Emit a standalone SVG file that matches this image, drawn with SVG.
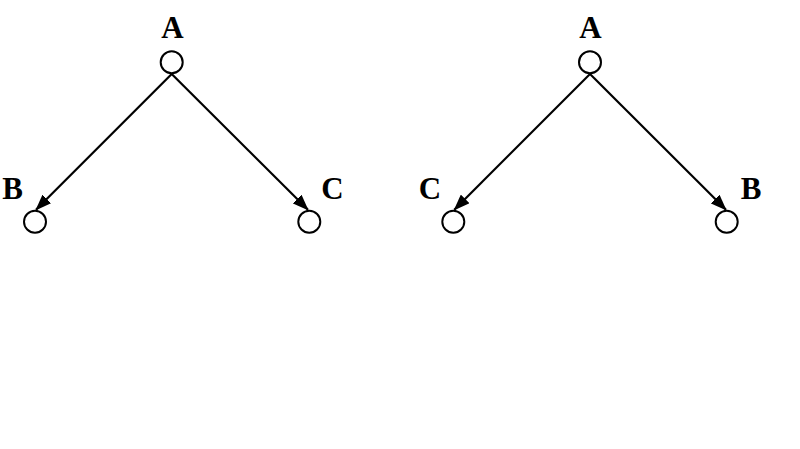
<svg xmlns="http://www.w3.org/2000/svg" width="800" height="449" viewBox="0 0 800 449">
<style>
.node circle{fill:#fff;stroke:#000;stroke-width:2}
.lbl{font-family:"Liberation Serif",serif;font-weight:bold;font-size:31px;fill:#000;text-anchor:middle}
.edge{stroke:#000;stroke-width:2.2;fill:none;marker-end:url(#arr)}
</style>
<defs>
<marker id="arr" markerWidth="7.4" markerHeight="5.6" refX="7" refY="2.8" orient="auto" markerUnits="strokeWidth">
<path d="M0,0 L7.4,2.8 L0,5.6 Z" fill="#000"/>
</marker>
</defs>
<rect width="800" height="449" fill="#fff"/>
<g id="connectors">
<line class="edge" x1="171.7" y1="74" x2="36" y2="209.8"/>
<line class="edge" x1="171.7" y1="74" x2="308" y2="209.8"/>
<line class="edge" x1="590" y1="74" x2="454.3" y2="209.8"/>
<line class="edge" x1="590" y1="74" x2="726" y2="209.8"/>
</g>
<g id="L-A" class="node"><circle cx="171.7" cy="62.3" r="11"/><text class="lbl" x="172.5" y="38">A</text></g>
<g id="L-B" class="node"><circle cx="35" cy="221.7" r="11"/><text class="lbl" x="12.5" y="199">B</text></g>
<g id="L-C" class="node"><circle cx="309.3" cy="221.7" r="11"/><text class="lbl" x="332.5" y="199">C</text></g>
<g id="R-A" class="node"><circle cx="590" cy="62.3" r="11"/><text class="lbl" x="590.5" y="38">A</text></g>
<g id="R-C" class="node"><circle cx="453.3" cy="221.7" r="11"/><text class="lbl" x="430" y="199">C</text></g>
<g id="R-B" class="node"><circle cx="726.7" cy="221.7" r="11"/><text class="lbl" x="751" y="199">B</text></g>
</svg>
